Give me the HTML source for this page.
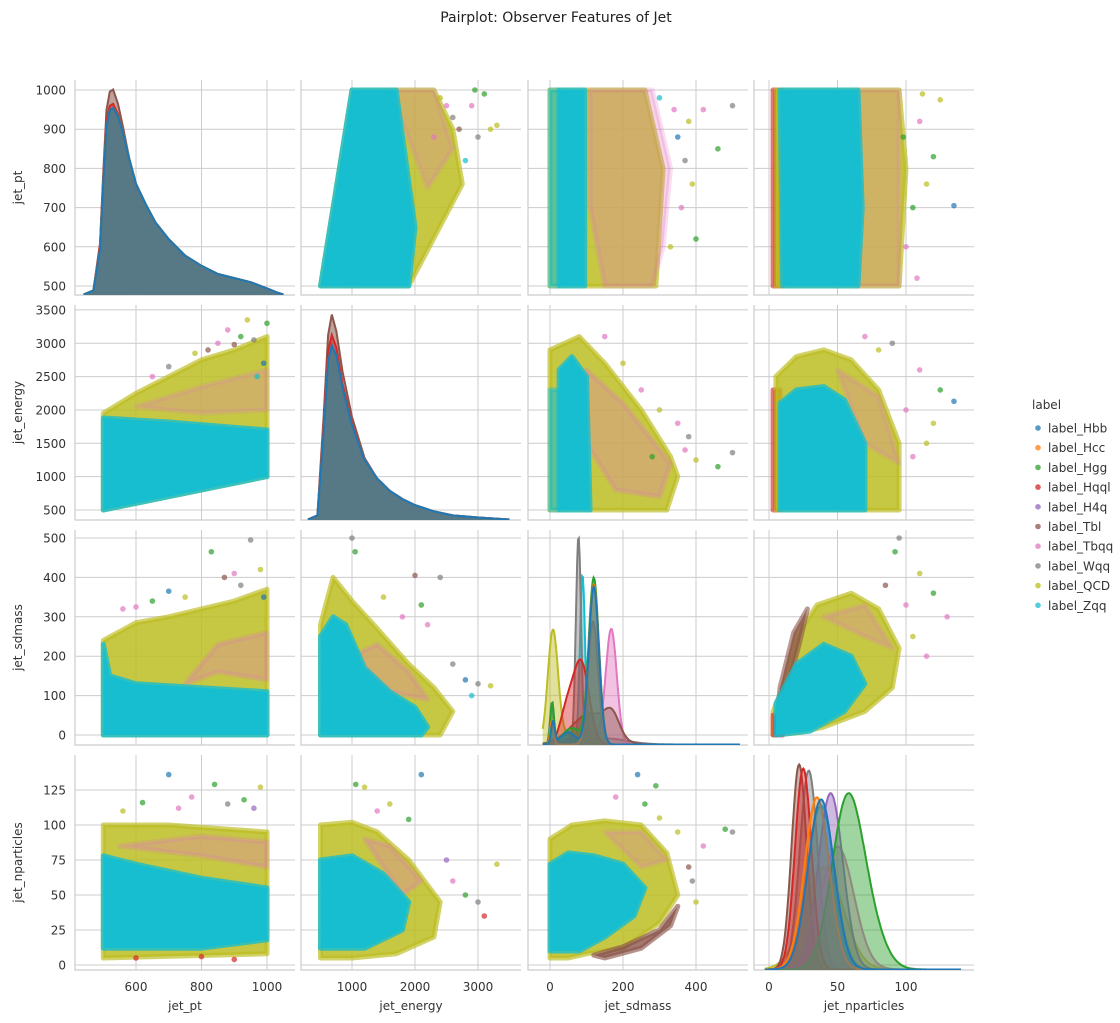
<!DOCTYPE html>
<html><head><meta charset="utf-8"><style>
html,body{margin:0;padding:0;background:#fff;}
svg{display:block;font-family:"DejaVu Sans","Liberation Sans",sans-serif;}
</style></head><body>
<svg id="chart" width="1120" height="1023" viewBox="0 0 1120 1023">
<text x="556" y="22" text-anchor="middle" font-size="14" fill="#222">Pairplot: Observer Features of Jet</text>
<g id="panels"></g>
<g id="legend"></g>
</svg>
<script>
const varNames = ['jet_pt','jet_energy','jet_sdmass','jet_nparticles'];
const labels = ['label_Hbb','label_Hcc','label_Hgg','label_Hqql','label_H4q','label_Tbl','label_Tbqq','label_Wqq','label_QCD','label_Zqq'];
const colors = ['#1f77b4','#ff7f0e','#2ca02c','#d62728','#9467bd','#8c564b','#e377c2','#7f7f7f','#bcbd22','#17becf'];
const xTicks = [[600,800,1000],[1000,2000,3000],[0,200,400],[0,50,100]];
const yTicks = [[500,600,700,800,900,1000],[500,1000,1500,2000,2500,3000,3500],[0,100,200,300,400,500],[0,25,50,75,100,125]];

const ptGrid = [440,470,490,500,510,520,530,545,560,580,600,630,660,700,750,800,850,900,950,1000,1030,1050];
const ptBrown = [0,0.02,0.25,0.6,0.9,0.99,1.0,0.93,0.82,0.66,0.54,0.43,0.35,0.27,0.18,0.13,0.1,0.08,0.06,0.03,0.01,0];
const ptRed = [0,0.02,0.24,0.57,0.85,0.92,0.93,0.88,0.79,0.65,0.53,0.43,0.35,0.27,0.19,0.14,0.1,0.08,0.06,0.03,0.01,0];
const ptBlue = [0,0.02,0.22,0.55,0.82,0.9,0.91,0.87,0.79,0.66,0.54,0.44,0.35,0.27,0.19,0.14,0.1,0.08,0.06,0.03,0.01,0];
const enGrid = [300,450,550,620,680,750,850,1000,1200,1400,1600,1800,2000,2300,2600,3000,3500];
const enBrown = [0,0.02,0.5,0.9,1.0,0.92,0.72,0.5,0.3,0.2,0.14,0.1,0.07,0.04,0.02,0.01,0];
const enRed = [0,0.02,0.45,0.82,0.9,0.84,0.66,0.47,0.29,0.19,0.13,0.09,0.06,0.035,0.02,0.01,0];
const enBlue = [0,0.02,0.42,0.77,0.85,0.8,0.64,0.46,0.29,0.2,0.14,0.1,0.07,0.04,0.02,0.01,0];
const sdClass = [9,9, 8,8, 7,7,7, 6,6, 5,5, 4, 3,3, 2,2,2, 1,1, 0,0,0];
const sdMean  = [89,10, 8,60, 78,5,150, 168,100, 110,170, 118, 85,45, 120,6,60, 120,6, 120,8,50];
const sdSd    = [7,5, 14,30, 7,5,60, 15,40, 50,20, 14, 22,18, 14,5,25, 14,5, 14,5,20];
const sdHeight= [0.83,0.08, 0.55,0.05, 1.0,0.2,0.03, 0.55,0.06, 0.15,0.1, 0.6, 0.4,0.15, 0.81,0.2,0.08, 0.78,0.12, 0.77,0.11,0.06];
const npClass = [9,8,7,6,5,4,3,2,1,0, 2];
const npMean  = [38,40,29,50,22,45,25,56,35,38, 70];
const npSd    = [10,14,6.5,12,5.5,9,6,11,9,9.5, 12];
const npHeight= [0.8,0.5,0.97,0.6,1.0,0.86,0.98,0.72,0.84,0.83, 0.25];

const clouds = {
 '1_0':[[8,0.85,[[500,500],[500,1950],[600,2250],[700,2500],[800,2750],[900,2900],[1000,3100],[1000,1000]]],[6,0.25,[[600,2050],[800,2350],[1000,2600],[1000,2000],[800,1950]]],[9,1,[[500,500],[500,1880],[700,1820],[1000,1700],[1000,1000]]]],
 '2_0':[[8,0.85,[[500,0],[500,240],[600,285],[700,300],[800,320],[900,340],[1000,370],[1000,0]]],[6,0.3,[[750,130],[850,160],[1000,140],[1000,260],[850,230]]],[9,1,[[500,0],[500,230],[520,150],[600,130],[800,120],[1000,110],[1000,0]]]],
 '3_0':[[8,0.85,[[500,5],[500,100],[700,100],[1000,95],[1000,8]]],[6,0.3,[[550,85],[800,92],[1000,88],[1000,70],[800,78]]],[9,1,[[500,12],[500,78],[600,72],[800,62],[1000,55],[1000,18],[800,12]]]],
 '0_1':[[8,0.85,[[500,500],[1000,1000],[2300,1000],[2600,900],[2750,760],[1900,500]]],[6,0.25,[[1600,1000],[2300,1000],[2600,850],[2200,750]]],[9,1,[[500,500],[1000,1000],[1700,1000],[2000,650],[1900,500]]]],
 '2_1':[[8,0.85,[[500,0],[500,280],[700,400],[1000,340],[1400,270],[1900,180],[2300,120],[2600,60],[2400,0]]],[6,0.3,[[1000,200],[1400,230],[1900,160],[2200,90],[1600,110]]],[9,1,[[500,0],[500,250],[700,300],[900,280],[1200,170],[1600,110],[2000,70],[2200,20],[2100,0]]]],
 '3_1':[[8,0.85,[[500,5],[500,100],[1000,102],[1400,95],[1900,75],[2400,45],[2300,20],[1700,8],[1000,5]]],[6,0.3,[[1200,90],[1600,85],[2100,60],[1800,50]]],[9,1,[[500,12],[500,75],[1000,78],[1500,65],[1900,45],[1800,25],[1200,12]]]],
 '0_2':[[8,0.85,[[0,500],[0,1000],[260,1000],[310,800],[290,500]]],[6,0.3,[[110,1000],[280,1000],[330,800],[310,600],[280,500],[150,500],[110,700]]],[9,1,[[25,500],[25,1000],[95,1000],[95,500]]],[9,0.6,[[0,500],[0,1000],[25,1000],[25,500]]]],
 '1_2':[[8,0.85,[[0,500],[0,2900],[80,3100],[150,2700],[250,2000],[330,1300],[350,1000],[320,500]]],[6,0.3,[[100,2600],[200,2100],[330,1200],[300,700],[180,800],[100,1500]]],[9,1,[[25,500],[25,2600],[60,2800],[100,2500],[110,500]]],[9,0.6,[[0,500],[0,2300],[25,2300],[25,500]]]],
 '3_2':[[8,0.85,[[0,5],[0,90],[60,100],[150,103],[250,100],[320,80],[350,50],[300,30],[200,12],[100,8],[50,5]]],[5,0.8,[[120,7],[200,13],[300,25],[350,42],[330,28],[250,12],[150,5]]],[6,0.25,[[150,95],[250,95],[320,75],[250,70]]],[9,1,[[0,10],[0,72],[50,80],[120,78],[200,72],[260,55],[230,35],[150,20],[80,10]]]],
 '0_3':[[3,0.8,[[3,500],[3,1000],[10,1000],[10,500]]],[8,0.85,[[5,500],[5,1000],[95,1000],[100,800],[95,500]]],[6,0.25,[[65,500],[65,1000],[95,1000],[95,500]]],[9,1,[[10,500],[8,1000],[65,1000],[68,700],[65,500]]]],
 '1_3':[[3,0.8,[[3,500],[3,2300],[8,2300],[8,500]]],[8,0.85,[[5,500],[5,2500],[20,2800],[40,2900],[60,2750],[80,2300],[95,1500],[95,500]]],[6,0.25,[[50,2600],[80,2200],[95,1200],[70,1500]]],[9,1,[[8,500],[8,2100],[20,2300],[40,2350],[55,2150],[70,1500],[70,500]]]],
 '2_3':[[8,0.85,[[3,0],[3,60],[10,120],[20,250],[35,330],[60,360],[80,320],[95,220],[90,120],[70,60],[40,20],[20,5]]],[5,0.75,[[5,0],[8,120],[18,260],[28,320],[22,230],[12,100]]],[6,0.25,[[40,300],[70,330],[90,220],[70,250]]],[3,0.8,[[3,0],[3,50],[10,45],[10,0]]],[9,1,[[5,0],[5,80],[20,180],[40,230],[60,200],[70,130],[55,60],[30,10]]]]
};
const outliers = {
 '1_0':[[940,3350,8],[1000,3300,2],[880,3200,6],[960,3050,7],[900,2980,5],[990,2700,0],[850,3000,6],[780,2850,8],[700,2650,7],[920,3100,2],[650,2500,6],[820,2900,5],[970,2500,9]],
 '2_0':[[950,495,7],[830,465,2],[980,420,8],[700,365,0],[600,325,6],[900,410,6],[750,350,8],[870,400,5],[650,340,2],[560,320,6],[920,380,7],[990,350,0]],
 '3_0':[[700,136,0],[840,129,2],[980,127,8],[770,120,6],[620,116,2],[960,112,4],[880,115,7],[560,110,8],[730,112,6],[930,118,2],[600,5,3],[800,6,3],[900,4,3]],
 '0_1':[[2950,1000,2],[3300,910,8],[3200,900,8],[2900,960,6],[3000,880,7],[2800,820,9],[2500,960,6],[2700,900,5],[2400,980,8],[2600,930,7],[2300,880,6],[3100,990,2]],
 '2_1':[[1000,500,7],[1050,465,2],[2000,405,5],[2400,400,7],[2100,330,2],[3200,125,8],[3000,130,7],[1500,350,8],[1800,300,6],[2200,280,6],[2600,180,7],[2800,140,0],[2900,100,9]],
 '3_1':[[2100,136,0],[1060,129,2],[1200,127,8],[1900,104,2],[3300,72,8],[3000,45,7],[1600,115,8],[1400,110,6],[2600,60,6],[2800,50,2],[2500,75,4],[3100,35,3]],
 '0_2':[[460,850,2],[500,960,7],[420,950,6],[380,920,8],[390,760,8],[350,880,0],[360,700,6],[340,950,6],[400,620,2],[330,600,8],[370,820,7],[300,980,9]],
 '1_2':[[500,1360,7],[460,1150,2],[400,1250,8],[370,1400,6],[280,1300,2],[350,1800,6],[300,2000,8],[250,2300,6],[380,1600,7],[200,2700,8],[150,3100,6]],
 '3_2':[[240,136,0],[290,128,2],[480,97,2],[500,95,7],[180,120,6],[420,85,6],[350,95,8],[380,70,5],[300,105,8],[260,115,2],[400,45,8],[390,60,7]],
 '0_3':[[135,705,0],[125,975,8],[120,830,2],[110,920,6],[105,700,2],[100,600,6],[115,760,8],[98,880,2],[108,520,6],[112,990,8]],
 '1_3':[[135,2130,0],[125,2300,2],[110,2600,6],[120,1800,8],[90,3000,7],[100,2000,6],[115,1500,8],[105,1300,6],[80,2900,8],[70,3100,6]],
 '2_3':[[95,500,7],[92,465,2],[110,410,8],[130,300,6],[120,360,2],[100,330,6],[105,250,8],[85,380,5],[115,200,6]]
};

const colL = [75,301,528,754], rowT = [80,305,530,755], W = 220, H = 215;
function xOff(vi, v){
  if (vi===0) return 61 + (v-600)*0.3275;
  if (vi===1) return 51 + (v-1000)*0.063;
  if (vi===2) return 22 + v*0.365;
  return 15 + v*1.37;
}
function yOff(vi, v){
  if (vi===0) return 206 - (v-500)*0.392;
  if (vi===1) return 205 - (v-500)*0.0667;
  if (vi===2) return 205 - v*0.394;
  return 210 - v*1.4;
}
const NS = 'http://www.w3.org/2000/svg';
function mk(tag, attrs, parent){
  const e = document.createElementNS(NS, tag);
  for (const k in attrs) e.setAttribute(k, attrs[k]);
  parent.appendChild(e); return e;
}
const svgEl = document.getElementById('chart');
const panelsEl = document.getElementById('panels');
const defsEl = mk('defs', {}, svgEl);

function gauss(m, s, h, x){ return h*Math.exp(-0.5*((x-m)/s)*((x-m)/s)); }

function drawPanel(r, c){
    const L = colL[c], T = rowT[r];
    const g = mk('g', {}, panelsEl);
    
    
    const cp = mk('clipPath', {id:'cp'+r+c}, defsEl);
    mk('rect', {x:L, y:T, width:W, height:H}, cp);
    xTicks[c].forEach(function(t){
      const x = L + xOff(c, t);
      const ln = mk('line', {x1:x, x2:x, y1:T, y2:T+H, stroke:'#cccccc', 'stroke-width':1}, g);
      
      
    });
    yTicks[r].forEach(function(t){
      const y = T + yOff(r, t);
      const ln = mk('line', {x1:L, x2:L+W, y1:y, y2:y, stroke:'#cccccc', 'stroke-width':1}, g);
      
      
    });
    const spine = mk('path', {d:'M'+L+','+T+' V'+(T+H)+' H'+(L+W), fill:'none', stroke:'#cccccc', 'stroke-width':1.2}, g);
    
    
    const inner = mk('g', {'clip-path':'url(#cp'+r+c+')'}, g);
    if (r === c){
      const base = T + H;
      let curves = [];
      let fop = 0.45;
      let mixed = false;
      if (r===0){ mixed = true; curves = [[5,ptGrid,ptBrown],[3,ptGrid,ptRed],[8,ptGrid,ptBlue],[2,ptGrid,ptBlue],[1,ptGrid,ptBlue],[0,ptGrid,ptBlue]]; }
      else if (r===1){ mixed = true; curves = [[5,enGrid,enBrown],[3,enGrid,enRed],[7,enGrid,enBlue],[1,enGrid,enBlue],[0,enGrid,enBlue]]; }
      else {
        const cls = r===2 ? sdClass : npClass, mu = r===2 ? sdMean : npMean, sd = r===2 ? sdSd : npSd, hh = r===2 ? sdHeight : npHeight;
        const xmax = r===2 ? 520 : 140, xmin = r===2 ? -20 : -3;
        [9,8,7,6,5,4,3,2,1,0].forEach(function(ci){
          const xs = [], ys = [];
          for (let i=0;i<=240;i++){
            const xv = xmin + (xmax-xmin)*i/240;
            let d = 0;
            for (let k=0;k<cls.length;k++) if (cls[k]===ci) d += gauss(mu[k], sd[k], hh[k], xv);
            xs.push(xv); ys.push(d);
          }
          curves.push([ci, xs, ys]);
        });
      }
      curves.forEach(function(cv, idx){
        const ci = cv[0], xs = cv[1], ys = cv[2];
        let d = 'M' + (L + xOff(c, xs[0])) + ',' + base;
        for (let i=0;i<xs.length;i++){ d += ' L' + (L + xOff(c, xs[i])).toFixed(1) + ',' + (base - ys[i]*205).toFixed(1); }
        d += ' L' + (L + xOff(c, xs[xs.length-1])) + ',' + base + ' Z';
        let fc = colors[ci], fo = fop;
        if (mixed){
          if (idx === curves.length-1){ fc = '#537a87'; fo = 0.97; }
          else if (ci === 5 || ci === 3){ fo = 0.55; }
          else { fo = 0; }
        }
        const area = mk('path', {d:d, fill:fc, 'fill-opacity':fo, stroke:'none'}, inner);
        
        
        let dl = '';
        for (let i=0;i<xs.length;i++){ dl += (i?' L':'M') + (L + xOff(c, xs[i])).toFixed(1) + ',' + (base - ys[i]*205 - 0.5).toFixed(1); }
        const line = mk('path', {d:dl, fill:'none', stroke:colors[ci], 'stroke-width':2}, inner);
        
        
      });
    } else {
      const key = r + '_' + c;
      (clouds[key]||[]).forEach(function(layer){
        const ci = layer[0], op = layer[1], pts = layer[2];
        const p = pts.map(function(q){ return (L + xOff(c, q[0])).toFixed(1) + ',' + (T + yOff(r, q[1])).toFixed(1); }).join(' ');
        const poly = mk('polygon', {points:p, fill:colors[ci], 'fill-opacity':op, stroke:colors[ci], 'stroke-opacity':op*0.8, 'stroke-width':5, 'stroke-linejoin':'round'}, inner);
        
        
      });
      (outliers[key]||[]).forEach(function(o){
        const dot = mk('circle', {cx:L + xOff(c, o[0]), cy:T + yOff(r, o[1]), r:2.8, fill:colors[o[2]], 'fill-opacity':0.7}, inner);
        
        
      });
    }
    if (c===0){
      yTicks[r].forEach(function(t){
        const tx = mk('text', {x:66, y:T + yOff(r, t) + 4.5, 'text-anchor':'end', 'font-size':12, fill:'#333'}, g);
        tx.textContent = t;
        
        
      });
      const yl = mk('text', {x:0, y:0, transform:'translate(22,' + (T+H/2) + ') rotate(-90)', 'text-anchor':'middle', 'font-size':12, fill:'#333'}, g);
      yl.textContent = varNames[r];
      
      
    }
    if (r===3){
      xTicks[c].forEach(function(t){
        const tx = mk('text', {x:L + xOff(c, t), y:991, 'text-anchor':'middle', 'font-size':12, fill:'#333'}, g);
        tx.textContent = t;
        
        
      });
      const xl = mk('text', {x:L + W/2, y:1010, 'text-anchor':'middle', 'font-size':12, fill:'#333'}, g);
      xl.textContent = varNames[c];
      
      
    }
}
for (let r=0;r<4;r++){
  for (let c=0;c<4;c++){
    try { drawPanel(r, c); } catch(e) { console.log(e); }
  }
}
const lg = document.getElementById('legend');
const lt = mk('text', {x:1032, y:409, 'font-size':12, fill:'#333'}, lg);
lt.textContent = 'label';


labels.forEach(function(lb, i){
  const y = 428 + i*19.7;
  const eg = mk('g', {}, lg);
  
  
  mk('circle', {cx:1038, cy:y, r:2.8, fill:colors[i], 'fill-opacity':0.75}, eg);
  const t = mk('text', {x:1048, y:y+4.5, 'font-size':12, fill:'#333'}, eg);
  t.textContent = lb;
});
</script>
</body></html>
